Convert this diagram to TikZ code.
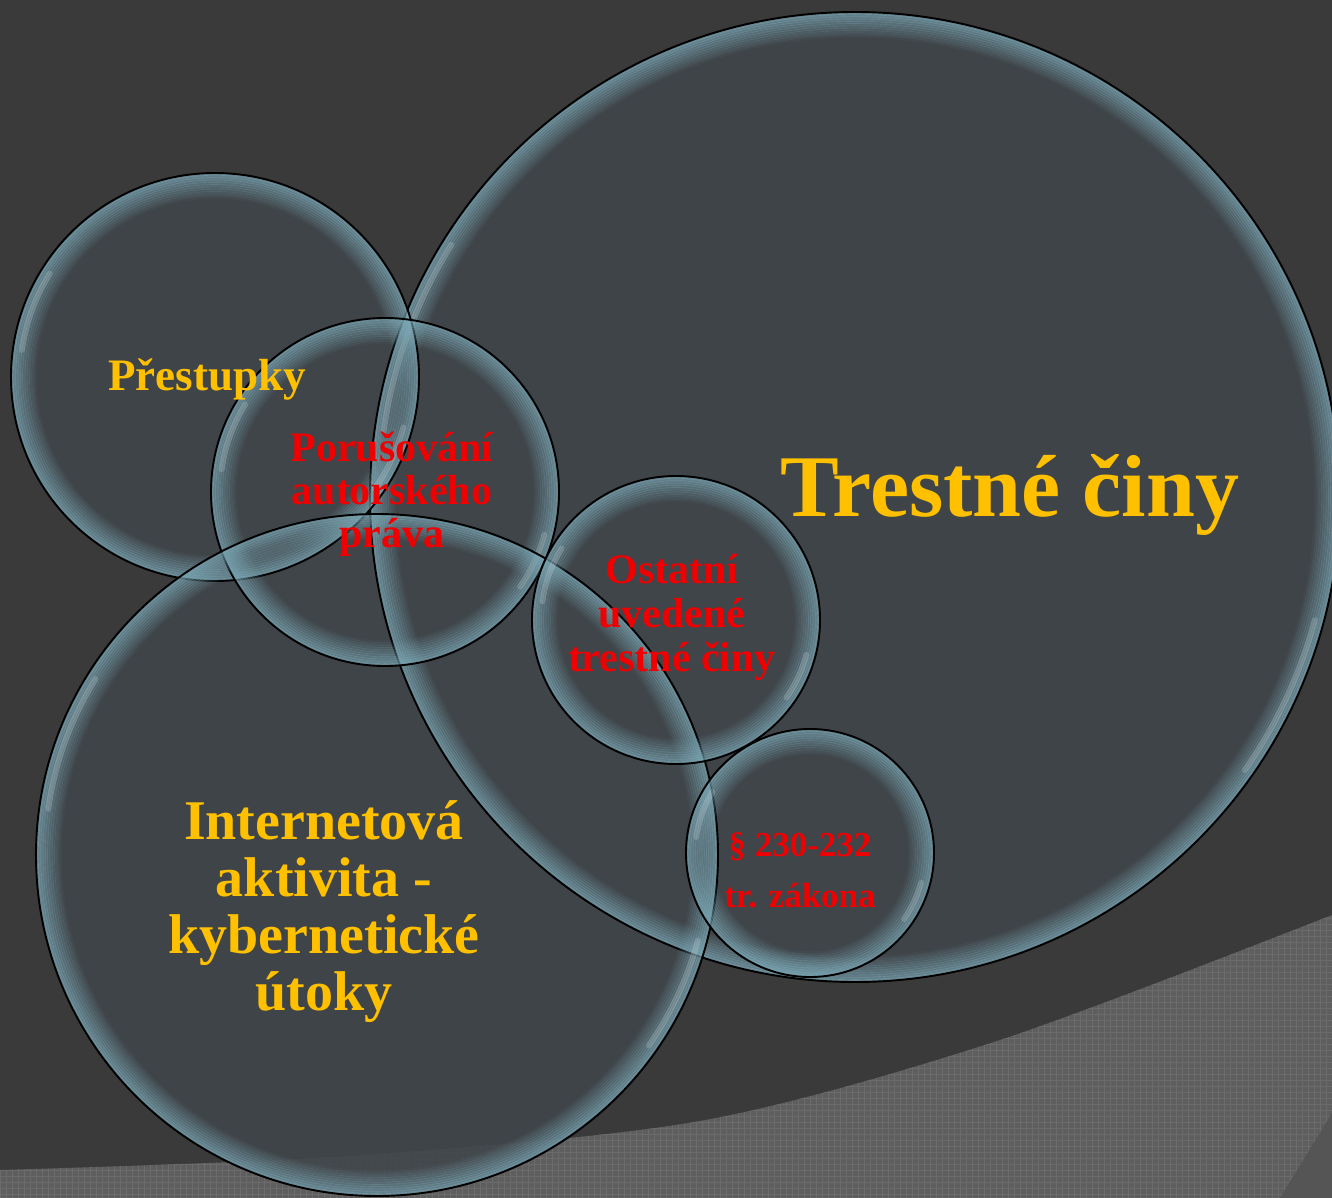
\documentclass[tikz,border=0pt]{standalone}
\usepackage{fontspec}
\setmainfont{Liberation Serif}
\definecolor{slide}{HTML}{3A3A3A}
\definecolor{floor}{HTML}{5E5E5E}
\definecolor{floorline}{HTML}{6B6B6B}
\definecolor{corner}{HTML}{555555}
\definecolor{bubbleback}{HTML}{40464A}
\definecolor{bubbleedge}{HTML}{7BA8B6}
\definecolor{gold}{HTML}{FFC000}
\definecolor{alarm}{HTML}{F00000}
% one soap bubble: centre x, centre y, radius (in pixels)
\newcommand{\bubblefill}[3]{\fill[bubble] (#1,#2) circle [radius=#3];}
\newcommand{\bubblerim}[3]{%
  \foreach \k [evaluate=\k as \op using 0.66-0.06*\k,
               evaluate=\k as \rk using #3-1.3-2.3*\k] in {0,...,10}
    \draw[rim, draw opacity=\op] (#1,#2) circle [radius=\rk];
  \pgfmathsetmacro\rs{#3-9}
  \draw[shine] (#1,#2) ++(188:\rs) arc [start angle=188, end angle=212, radius=\rs];
  \draw[shine] (#1,#2) ++(15:\rs) arc [start angle=15, end angle=35, radius=\rs];
  \draw[outline] (#1,#2) circle [radius=#3];}
\begin{document}
\begin{tikzpicture}[x=1pt,y=-1pt,
    bubble/.style={fill=bubbleback, fill opacity=0.88},
    rim/.style={draw=bubbleedge, line width=2.7pt},
    shine/.style={draw=white, draw opacity=0.16, line width=6pt, line cap=round},
    outline/.style={draw=black, line width=1.9pt},
    size/.style 2 args={font=\fontsize{#1}{#2}\selectfont\bfseries},
    yellowtext/.style={text=gold, align=center, inner sep=0pt},
    redtext/.style={text=alarm, align=center, inner sep=0pt}]
  \useasboundingbox (0,0) rectangle (1332,1198);
  \clip (0,0) rectangle (1332,1198);
  \fill[slide] (0,0) rectangle (1332,1198);
  % patterned floor in the lower right
  \begin{scope}
    \clip plot[smooth] coordinates {(0,1170) (350,1156) (700,1121) (1000,1040) (1332,915)}
      -- (1332,1198) -- (0,1198) -- cycle;
    \fill[floor] (0,880) rectangle (1332,1198);
    \draw[floorline, line width=0.7pt] (0,880) grid [step=6pt] (1332,1198);
    \fill[corner] (1332,1113) -- (1280,1198) -- (1332,1198) -- cycle;
  \end{scope}
  % bubbles
  \bubblefill{855}{497}{485}
  \bubblefill{215}{377}{204}
  \bubblefill{385}{492}{174}
  \bubblefill{377}{855}{341}
  \bubblefill{676}{620}{144}
  \bubblefill{810}{853}{124}
  \bubblerim{855}{497}{485}
  \bubblerim{215}{377}{204}
  \bubblerim{385}{492}{174}
  \bubblerim{377}{855}{341}
  \bubblerim{676}{620}{144}
  \bubblerim{810}{853}{124}
  % labels
  \node[yellowtext, size={88}{92}, anchor=base] (trestne) at (1010,516) {Trestné činy};
  \node[yellowtext, size={45}{48}, anchor=base] (prestupky) at (207,390) {Přestupky};
  \node[yellowtext, size={56}{57}] (internet) at (324,912)
    {Internetová\\aktivita -\\kybernetické\\útoky};
  \node[redtext, size={42}{43}] (autor) at (392,494) {Porušování\\autorského\\práva};
  \node[redtext, size={42}{44}] (ostatni) at (672,617) {Ostatní\\uvedené\\trestné činy};
  \node[redtext, size={35}{51}] (paragraf) at (800,870) {§ 230-232\\tr. zákona};
\end{tikzpicture}
\end{document}
